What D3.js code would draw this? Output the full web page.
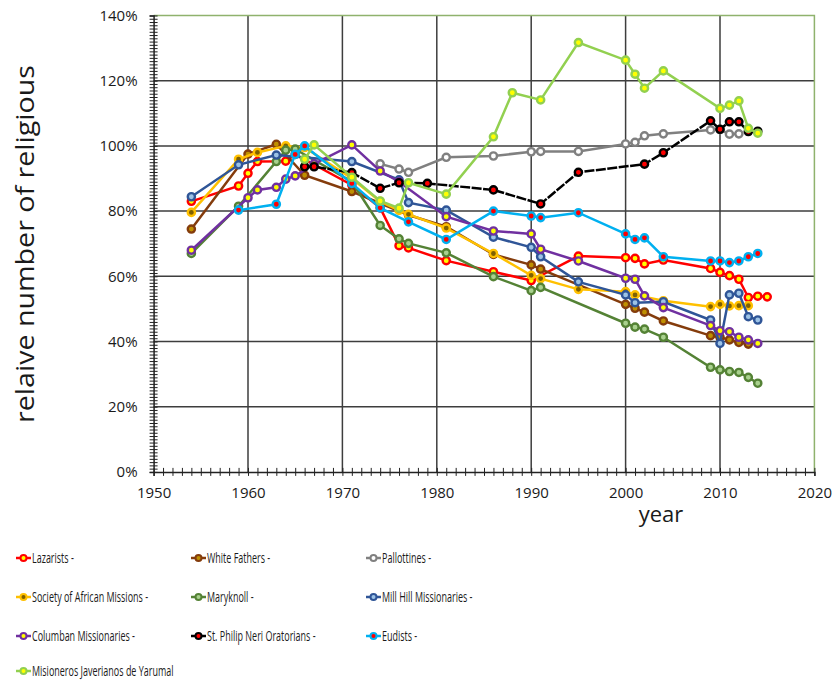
<!DOCTYPE html>
<html>
<head>
<meta charset="utf-8">
<script src="https://cdn.jsdelivr.net/npm/d3@7"></script>
<style>
  body { margin: 0; background: #fff; }
  text { font-family: "Open Sans", "Noto Sans", sans-serif; fill: #1a1a1a; }
</style>
</head>
<body>
<div id="chart"></div>
<script>
// data: [year, relative number (%)]
var lazarists = [[1954,83],[1959,87.7],[1960,91.6],[1961,95.2],[1964,95.3],[1965,97.4],[1971,88],[1974,81],[1976,69.4],[1977,68.7],[1981,64.8],[1986,61.4],[1990,58.7],[1995,66.2],[2000,65.7],[2001,65.5],[2002,63.8],[2004,65],[2009,62.4],[2010,61.2],[2011,60.2],[2012,59.1],[2013,53.5],[2014,53.9],[2015,53.7]];
var whiteFathers = [[1954,74.5],[1960,97.5],[1963,100.5],[1966,91],[1971,86],[1977,78.8],[1981,75.2],[1986,66.7],[1990,63.5],[1991,62.2],[2000,51.4],[2001,50.2],[2002,49],[2004,46.3],[2009,41.8],[2010,41.3],[2011,40.5],[2012,39.7],[2013,39.2]];
var pallottines = [[1974,94.5],[1976,92.9],[1977,91.9],[1981,96.5],[1986,96.9],[1990,98.2],[1991,98.3],[1995,98.3],[2000,100.6],[2001,101.1],[2002,103.1],[2004,103.7],[2009,104.9],[2010,105],[2011,103.6],[2012,103.7]];
var africanMissions = [[1954,79.6],[1959,95.9],[1961,98],[1964,100],[1966,99.5],[1971,90],[1974,83],[1976,80.2],[1977,79],[1981,74.8],[1986,67],[1990,60.3],[1991,59.3],[1995,56],[2000,55.3],[2001,54.3],[2004,52.5],[2009,50.7],[2010,51.4],[2011,50.9],[2012,51],[2013,51]];
var maryknoll = [[1954,67],[1959,81.5],[1963,95.2],[1964,98.7],[1965,99],[1971,89],[1974,75.6],[1976,71.5],[1977,70.1],[1981,67.2],[1986,59.9],[1990,55.6],[1991,56.6],[2000,45.6],[2001,44.4],[2002,43.8],[2004,41.3],[2009,32.1],[2010,31.3],[2011,30.8],[2012,30.5],[2013,29],[2014,27.2]];
var millHill = [[1954,84.4],[1959,94.2],[1963,97.2],[1971,95.2],[1976,89.6],[1977,82.6],[1981,80.3],[1986,72],[1990,68.9],[1991,66],[1995,58.3],[2000,54.3],[2001,51.9],[2004,52.2],[2009,46.6],[2010,39.4],[2011,54.3],[2012,54.8],[2013,47.6],[2014,46.6]];
var columban = [[1954,68],[1960,84.1],[1961,86.5],[1963,87.3],[1964,89.8],[1965,90.8],[1967,94.5],[1971,100.3],[1974,92.3],[1976,89],[1981,78.3],[1986,73.9],[1990,73],[1991,68.3],[1995,64.7],[2000,59.4],[2001,59.1],[2002,54],[2004,50.4],[2009,44.9],[2010,43.3],[2011,43],[2012,41.3],[2013,40.5],[2014,39.4]];
var oratorians = [[1966,93.6],[1967,93.6],[1971,91.8],[1974,87],[1976,88.7],[1979,88.5],[1986,86.5],[1991,82.2],[1995,91.9],[2002,94.4],[2004,97.9],[2009,107.7],[2010,105.1],[2011,107.4],[2012,107.4],[2013,104.4],[2014,104.5]];
var eudists = [[1959,80.3],[1963,82.1],[1965,97.4],[1966,100],[1971,88.5],[1974,81],[1977,76.7],[1981,71.3],[1986,80],[1990,78.5],[1991,78],[1995,79.5],[2000,73],[2001,71.3],[2002,71.8],[2004,66],[2009,64.7],[2010,64.7],[2011,64.2],[2012,64.7],[2013,66],[2014,67]];
var yarumal = [[1966,95.9],[1967,100.3],[1971,90.4],[1974,83.1],[1976,80.9],[1977,88.7],[1981,85.2],[1986,102.8],[1988,116.3],[1991,114.1],[1995,131.7],[2000,126.3],[2001,122],[2002,117.7],[2004,123],[2010,111.5],[2011,112.5],[2012,113.8],[2013,105.4],[2014,103.9]];

var seriesNames = ["Lazarists -", "White Fathers -", "Pallottines -", "Society of African Missions -", " Maryknoll -", "Mill Hill Missionaries -", "Columban Missionaries -", "St. Philip Neri Oratorians -", "Eudists -", "Misioneros Javerianos de Yarumal"];
var seriesData = [lazarists, whiteFathers, pallottines, africanMissions, maryknoll, millHill, columban, oratorians, eudists, yarumal];
var xTicks = [1950, 1960, 1970, 1980, 1990, 2000, 2010, 2020];
var yTicks = [0, 20, 40, 60, 80, 100, 120, 140];

// line colour, marker fill, dashed?
var styles = [
  {line: "#ff0000", fill: "#ffff00"},
  {line: "#843c0c", fill: "#bf9000"},
  {line: "#808080", fill: "#ffffff"},
  {line: "#ffc000", fill: "#7f6000"},
  {line: "#548235", fill: "#a9d18e"},
  {line: "#2f5597", fill: "#9dc3e6"},
  {line: "#7030a0", fill: "#ffff00"},
  {line: "#000000", fill: "#ff0000", dash: "10,1.5"},
  {line: "#00b0f0", fill: "#ff0000"},
  {line: "#92d050", fill: "#ffff00"}
];

var svgWidth = 832, svgHeight = 682;
var plotLeft = 153.6, plotRight = 814.4, plotTop = 15.5, plotBottom = 471.9;

var svg = d3.select("#chart").append("svg")
  .attr("width", svgWidth)
  .attr("height", svgHeight);

var x = d3.scaleLinear().domain([1950, 2020]).range([plotLeft, plotRight]);
var y = d3.scaleLinear().domain([0, 140]).range([plotBottom, plotTop]);

// gridlines
svg.append("g").selectAll("line")
  .data(yTicks.slice(1, -1))
  .enter().append("line")
  .attr("x1", plotLeft).attr("x2", plotRight)
  .attr("y1", d => y(d)).attr("y2", d => y(d))
  .attr("stroke", "#3d3d3d").attr("stroke-width", 1.5);

svg.append("g").selectAll("line")
  .data(xTicks.slice(1, -1))
  .enter().append("line")
  .attr("x1", d => x(d)).attr("x2", d => x(d))
  .attr("y1", plotTop).attr("y2", plotBottom)
  .attr("stroke", "#3d3d3d").attr("stroke-width", 1.5);

// green frame top & right
svg.append("path")
  .attr("d", `M${plotLeft},${plotTop}H${plotRight}V${plotBottom}`)
  .attr("fill", "none").attr("stroke", "#8fb26d").attr("stroke-width", 1.5);

// minor ticks, crossing the axes
var yMinor = d3.axisLeft(y).tickValues(d3.range(0, 141, 1)).tickSize(4).tickFormat("");
var yAxisG = svg.append("g").attr("transform", `translate(${plotLeft},0)`).call(yMinor);
yAxisG.selectAll(".tick line").attr("x1", 4).attr("stroke", "#222");
yAxisG.select(".domain").attr("stroke", "#222").attr("stroke-width", 1.5);

var xMinor = d3.axisBottom(x).tickValues(d3.range(1950, 2021, 1)).tickSize(4).tickFormat("");
var xAxisG = svg.append("g").attr("transform", `translate(0,${plotBottom})`).call(xMinor);
xAxisG.selectAll(".tick line").attr("y1", -4).attr("stroke", "#222");
xAxisG.select(".domain").attr("stroke", "#222").attr("stroke-width", 1.5);

// major labels
var yLab = svg.append("g").attr("transform", `translate(${plotLeft},0)`)
  .call(d3.axisLeft(y).tickValues(yTicks).tickSize(0).tickPadding(16).tickFormat(d => d + "%"));
yLab.select(".domain").remove();
yLab.selectAll("text").attr("font-size", 15).attr("font-family", "'Open Sans', sans-serif").attr("fill", "#1a1a1a");

var xLab = svg.append("g").attr("transform", `translate(0,${plotBottom})`)
  .call(d3.axisBottom(x).tickValues(xTicks).tickSize(0).tickPadding(15).tickFormat(d3.format("d")));
xLab.select(".domain").remove();
xLab.selectAll("text").attr("font-size", 15).attr("font-family", "'Open Sans', sans-serif").attr("fill", "#1a1a1a");

// axis titles
svg.append("text")
  .attr("transform", "translate(34,244) rotate(-90)")
  .attr("text-anchor", "middle")
  .attr("font-size", 25)
  .attr("textLength", 358)
  .attr("lengthAdjust", "spacingAndGlyphs")
  .text("relaive number of religious");

svg.append("text")
  .attr("x", 661).attr("y", 522)
  .attr("text-anchor", "middle")
  .attr("font-size", 22)
  .text("year");

// lines and markers
var line = d3.line().x(d => x(d[0])).y(d => y(d[1]));

seriesData.forEach(function(data, i) {
  var st = styles[i];
  var g = svg.append("g");
  g.append("path")
    .datum(data)
    .attr("d", line)
    .attr("fill", "none")
    .attr("stroke", st.line)
    .attr("stroke-width", 2.5)
    .attr("stroke-dasharray", st.dash || null);
  g.selectAll("circle")
    .data(data)
    .enter().append("circle")
    .attr("cx", d => x(d[0]))
    .attr("cy", d => y(d[1]))
    .attr("r", 3.6)
    .attr("fill", st.fill)
    .attr("stroke", st.line)
    .attr("stroke-width", 2.4);
});

// legend
var legendX = [16, 191, 366];
var legendY = [558, 597, 636, 671];
var legend = svg.append("g").selectAll("g")
  .data(seriesNames)
  .enter().append("g")
  .attr("transform", (d, i) => `translate(${legendX[i % 3]},${legendY[Math.floor(i / 3)]})`);

legend.append("line")
  .attr("x1", 0).attr("x2", 15)
  .attr("stroke", (d, i) => styles[i].line)
  .attr("stroke-width", 2.5);
legend.append("circle")
  .attr("cx", 7.5).attr("r", 3)
  .attr("fill", (d, i) => styles[i].fill)
  .attr("stroke", (d, i) => styles[i].line)
  .attr("stroke-width", 2);
// narrow text like the original
legend.append("text")
  .attr("transform", "translate(16,0) scale(0.62,1)")
  .attr("dy", "0.35em")
  .attr("font-size", 14.5)
  .text(d => d);
</script>
</body>
</html>
